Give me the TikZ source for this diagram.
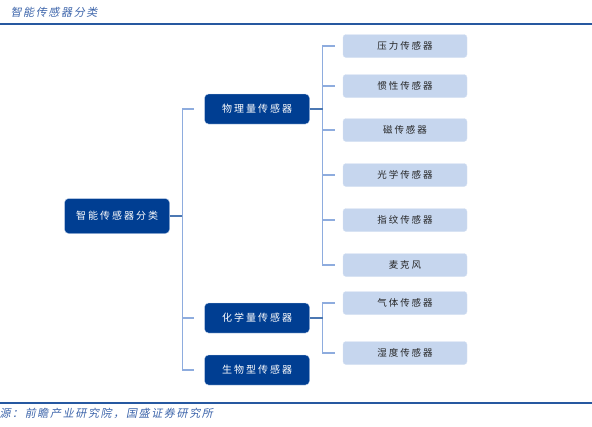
\documentclass[tikz,border=0pt]{standalone}
\usepackage{fontspec}
\usepackage{tikz}
\newfontfamily\cjk[LetterSpace=20]{Noto Sans CJK SC}
\newfontfamily\cjkit[FakeSlant=0.2, LetterSpace=15]{Noto Sans CJK SC}
\definecolor{deepblue}{RGB}{0,62,146}
\definecolor{paleblue}{RGB}{198,214,238}
\definecolor{linkblue}{RGB}{142,172,222}
\definecolor{rulerblue}{RGB}{38,88,160}
\definecolor{titleblue}{RGB}{60,100,170}
\usetikzlibrary{positioning,calc}

\begin{document}
\begin{tikzpicture}[x=1pt, y=-1pt,
    root/.style={rectangle, rounded corners=4pt, draw=paleblue, fill=deepblue, text=white, minimum width=105pt, minimum height=35pt, font=\cjk\fontsize{10}{12}\selectfont},
    category/.style={rectangle, rounded corners=4pt, draw=paleblue, fill=deepblue, text=white, minimum width=105pt, minimum height=30pt, font=\cjk\fontsize{10}{12}\selectfont},
    leaf/.style={rectangle, rounded corners=3pt, draw=paleblue!70, fill=paleblue, text=black!85, minimum width=124pt, minimum height=23pt, font=\cjk\fontsize{9.5}{11}\selectfont},
    link/.style={linkblue, line width=1.4pt},
    rootlink/.style={deepblue!70, line width=1.2pt},
    caption/.style={anchor=west, text=titleblue, font=\cjkit\fontsize{11}{13}\selectfont}
]
\useasboundingbox (0,0) rectangle (592,426);

% Header and footer
\node[caption] (title) at (7,12) {智能传感器分类};
\draw[rulerblue, line width=2pt] (0,24) -- (592,24);
\draw[rulerblue, line width=2pt] (0,403) -- (592,403);
\node[caption] (source) at (-4,413) {源：前瞻产业研究院，国盛证券研究所};

% Nodes
\node[root] (smart) at (117,216) {智能传感器分类};
\node[category] (phys) at (257,109) {物理量传感器};
\node[category] (chem) at (257,318) {化学量传感器};
\node[category] (bio) at (257,370) {生物型传感器};

\node[leaf] (press) at (405,46) {压力传感器};
\node[leaf] (inert) at (405,86) {惯性传感器};
\node[leaf] (magn) at (405,130) {磁传感器};
\node[leaf] (optic) at (405,175) {光学传感器};
\node[leaf] (finger) at (405,220) {指纹传感器};
\node[leaf] (micro) at (405,265) {麦克风};
\node[leaf] (gas) at (405,303) {气体传感器};
\node[leaf] (humid) at (405,353) {湿度传感器};

% Connectors
\draw[rootlink] (smart.east) -- ++(13,0);
\foreach \c in {phys,chem,bio}
    \draw[link] ($(smart.east)+(13,0)$) |- ($(\c.west)+(-10,0)$);
\foreach \l in {press,inert,magn,optic,finger,micro}
    \draw[link] ($(phys.east)+(13,0)$) |- ($(\l.west)+(-8,0)$);
\draw[rootlink] (phys.east) -- ++(13,0);
\foreach \l in {gas,humid}
    \draw[link] ($(chem.east)+(13,0)$) |- ($(\l.west)+(-8,0)$);
\draw[rootlink] (chem.east) -- ++(13,0);

\end{tikzpicture}
\end{document}
